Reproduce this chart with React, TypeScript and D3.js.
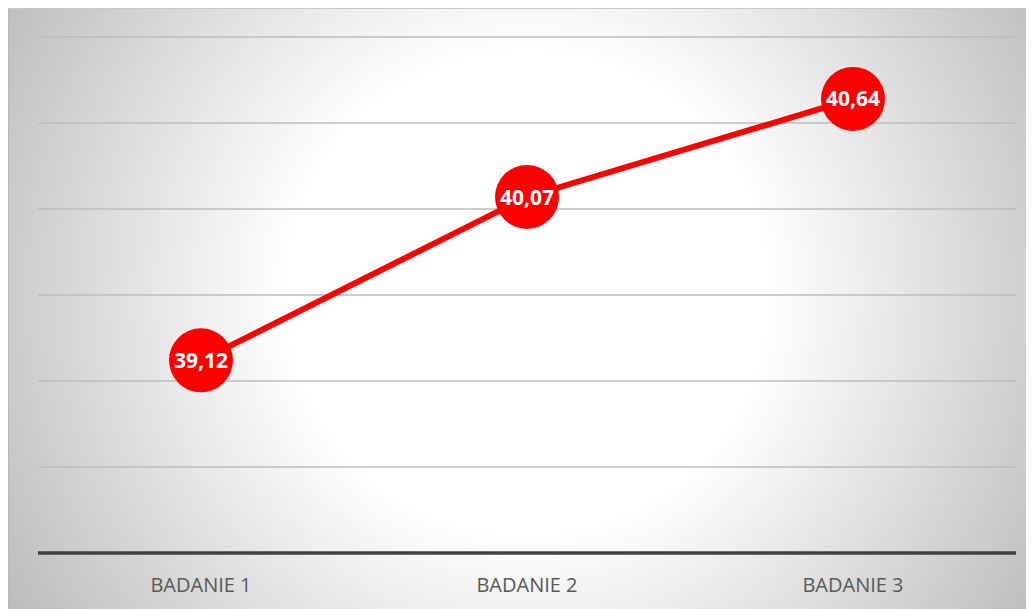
import React from "react";
import * as d3 from "d3";

const categories = ["BADANIE 1", "BADANIE 2", "BADANIE 3"];
const values = [39.12, 40.07, 40.64];
const yTicks = [38, 38.5, 39, 39.5, 40, 40.5, 41];

const W = 1026;
const H = 601;

export default function App() {
  const ox = 8, oy = 8; // svg offset in page (body margin)
  const x = d3.scaleBand<string>().domain(categories).range([38 - ox, 1016 - ox]);
  const y = d3.scaleLinear().domain([38, 41]).range([553 - oy, 37 - oy]);
  const cx = (c: string) => (x(c) as number) + x.bandwidth() / 2;
  const line = d3
    .line<number>()
    .x((_, i) => cx(categories[i]))
    .y((d) => y(d));
  const fmt = (v: number) => v.toFixed(2).replace(".", ",");
  const font = "'Open Sans', 'Noto Sans', sans-serif";
  return (
    <svg width={W} height={H} style={{ display: "block" }}>
      <defs>
        <radialGradient
          id="bg"
          gradientUnits="userSpaceOnUse"
          cx={519}
          cy={285}
          r={600}
        >
          <stop offset="0" stopColor="#ffffff" />
          <stop offset="0.4" stopColor="#ffffff" />
          <stop offset="1" stopColor="#bdbdbd" />
        </radialGradient>
      </defs>
      <rect x={0} y={0} width={W} height={H} fill="url(#bg)" />
      <line x1={0.5} x2={0.5} y1={0} y2={H} stroke="#b8b8b8" strokeWidth={1} />
      <line x1={0} x2={W} y1={0.5} y2={0.5} stroke="#c8c8c8" strokeWidth={1} />
      {yTicks.slice(1).map((t) => (
        <line
          key={t}
          x1={x.range()[0]}
          x2={x.range()[1]}
          y1={y(t)}
          y2={y(t)}
          stroke="#bcbcbc"
          strokeWidth={1.5}
        />
      ))}
      <line
        x1={x.range()[0]}
        x2={x.range()[1]}
        y1={y(38)}
        y2={y(38)}
        stroke="#404040"
        strokeWidth={3.5}
      />
      {categories.map((c) => (
        <text
          key={c}
          x={cx(c)}
          y={y(38) + 39}
          textAnchor="middle"
          fontFamily={font}
          fontSize={20}
          fill="#595959"
        >
          {c}
        </text>
      ))}
      <path d={line(values) as string} fill="none" stroke="#ff0000" strokeWidth={6} />
      {values.map((v, i) => (
        <g key={i}>
          <circle cx={cx(categories[i])} cy={y(v)} r={32} fill="#ff0000" />
          <text
            x={cx(categories[i])}
            y={y(v)}
            dy="0.36em"
            textAnchor="middle"
            fontFamily={font}
            fontWeight="bold"
            fontSize={21}
            fill="#ffffff"
          >
            {fmt(v)}
          </text>
        </g>
      ))}
    </svg>
  );
}
